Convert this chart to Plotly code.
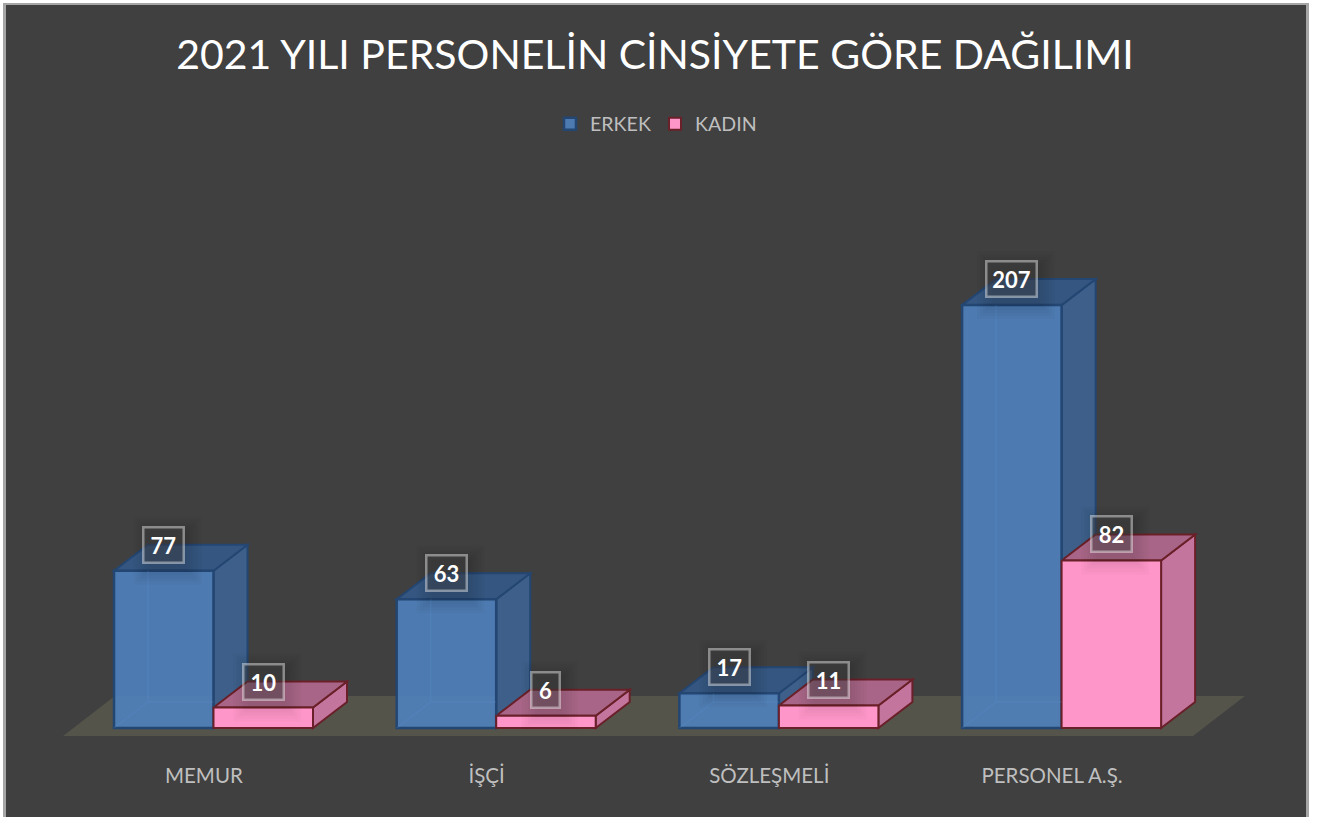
import plotly.graph_objects as go

categories = ["MEMUR", "İŞÇİ", "SÖZLEŞMELİ", "PERSONEL A.Ş."]
erkek = [77, 63, 17, 207]
kadin = [10, 6, 11, 82]
title_text = "2021 YILI PERSONELİN CİNSİYETE GÖRE DAĞILIMI"

W, H = 1318, 817
FONT = "Lato"
# scale set-up (pixels per unit)
PX_X, PX_Y = 282.7, 2.043
LEFT_PX, BASE_PX, PLOT_BOTTOM_PX = 114, 728, 745
BAR_W = 99.5 / PX_X
DX, DY = 34 / PX_X, 26 / PX_Y
LABEL_OFFSET = 0.318
LABEL_W = {1: 26, 2: 38, 3: 48}

BLUE = dict(front="rgba(79,129,189,0.9)", side="#3D5F89", top="#355680", line="#234672")
PINK = dict(front="#FF96C9", side="#C4759E", top="#A96587", line="#6A2028")

def poly(pts):
    return "M" + " L".join(f"{x},{y}" for x, y in pts) + " Z"

def face(pts, fill, line):
    return dict(type="path", xref="x", yref="y", path=poly(pts), fillcolor=fill,
                line=dict(color=line, width=2), layer="below")

positions = list(range(len(categories)))
shapes = []
# floor
shapes.append(dict(type="path", xref="x", yref="y", layer="below", fillcolor="#54544B", line=dict(width=0),
                   path=poly([(-0.18, -3.9), (3.817, -3.9), (4.0, 15.7), (0.003, 15.7)])))

def box_faces(x0, v, c):
    x1 = x0 + BAR_W
    return [
        face([(x1, 0), (x1 + DX, DY), (x1 + DX, v + DY), (x1, v)], c["side"], c["line"]),
        face([(x0, v), (x0 + DX, v + DY), (x1 + DX, v + DY), (x1, v)], c["top"], c["line"]),
    ]

for i in positions:
    shapes += box_faces(i, erkek[i], BLUE)
for i in positions:
    shapes += box_faces(i + BAR_W, kadin[i], PINK)

# faint back edges seen through the translucent blue bars
edge = dict(color="rgba(90,150,215,0.22)", width=1.5)
for i in positions:
    for p in [[(i, 0), (i + DX, DY)],
              [(i + DX, DY), (i + BAR_W, DY)],
              [(i + DX, DY), (i + DX, erkek[i])]]:
        shapes.append(dict(type="line", xref="x", yref="y", layer="above", line=edge,
                           x0=p[0][0], y0=p[0][1], x1=p[1][0], y1=p[1][1]))

# soft shadows beneath the data labels
for series, shift in ((erkek, 0), (kadin, BAR_W)):
    for i, v in zip(positions, series):
        hw = LABEL_W[len(str(v))] / 2
        for grow in (15, 12, 9, 6, 3, 0):
            shapes.append(dict(type="rect", xref="x", yref="y", layer="above",
                               xsizemode="pixel", ysizemode="pixel",
                               xanchor=i + shift + BAR_W / 2, yanchor=v + DY,
                               x0=-hw - grow + 4, x1=hw + grow + 4,
                               y0=-19 - grow - 6, y1=19 + grow - 6,
                               fillcolor="rgba(0,0,0,0.02)", line=dict(width=0)))

# outer frame
def px(x): return x / W
def py(y): return 1 - y / H
frame = [(0, 0, 3, H, "white"), (0, 0, W, 3, "white"), (1309, 0, W, H, "white"),
         (3, 3, 6, H, "#A6A6A6"), (3, 3, 1309, 5, "#A6A6A6"), (1306, 3, 1309, H, "#A6A6A6")]
for x0, y0, x1, y1, col in frame:
    shapes.append(dict(type="rect", xref="paper", yref="paper", x0=px(x0), x1=px(x1), y0=py(y0), y1=py(y1),
                       fillcolor=col, line=dict(width=0), layer="above"))

fig = go.Figure()
fig.add_bar(x=positions, y=erkek, name="ERKEK", width=BAR_W, offset=0,
            marker=dict(color=BLUE["front"], line=dict(color=BLUE["line"], width=2.5)))
fig.add_bar(x=[p + BAR_W for p in positions], y=kadin, name="KADIN", width=BAR_W, offset=0,
            marker=dict(color=PINK["front"], line=dict(color=PINK["line"], width=2)))

annotations = []
for series, shift in ((erkek, 0), (kadin, BAR_W)):
    for i, v in zip(positions, series):
        annotations.append(dict(x=i + shift + BAR_W / 2, y=v + DY, xref="x", yref="y", text=str(v), showarrow=False,
                                font=dict(family=FONT, size=22, color="white", weight="bold"),
                                bgcolor="rgba(64,64,64,0.4)", bordercolor="rgba(255,255,255,0.42)", borderwidth=2.5,
                                borderpad=0, width=LABEL_W[len(str(v))], height=33,
                                xanchor="center", yanchor="middle"))

fig.update_layout(
    width=W, height=H, autosize=False, margin=dict(l=0, r=0, t=0, b=0),
    paper_bgcolor="#404040", plot_bgcolor="rgba(0,0,0,0)", barmode="overlay",
    title=dict(text=title_text, x=655 / W, xanchor="center", y=1 - 55 / H, yanchor="middle",
               font=dict(family=FONT, size=41, color="white")),
    legend=dict(orientation="h", x=655 / W, xanchor="center", y=1 - 124 / H, yanchor="middle",
                font=dict(family=FONT, size=19.6, color="#BFBFBF"), bgcolor="rgba(0,0,0,0)", traceorder="normal",
                entrywidth=60, entrywidthmode="pixels"),
    xaxis=dict(range=[-LEFT_PX / PX_X, (W - LEFT_PX) / PX_X], tickmode="array",
               tickvals=[p + LABEL_OFFSET for p in positions], ticktext=categories,
               showgrid=False, zeroline=False, showline=False, ticks="outside", ticklen=12, tickcolor="rgba(0,0,0,0)",
               tickfont=dict(family=FONT, size=20.5, color="#BFBFBF")),
    yaxis=dict(domain=[(H - PLOT_BOTTOM_PX) / H, 1],
               range=[-(PLOT_BOTTOM_PX - BASE_PX) / PX_Y, BASE_PX / PX_Y],
               visible=False),
    shapes=shapes, annotations=annotations,
)
fig.write_html("out.html", config=dict(displayModeBar=False),
               post_script="document.body.style.margin='0';document.body.style.overflow='hidden';")
